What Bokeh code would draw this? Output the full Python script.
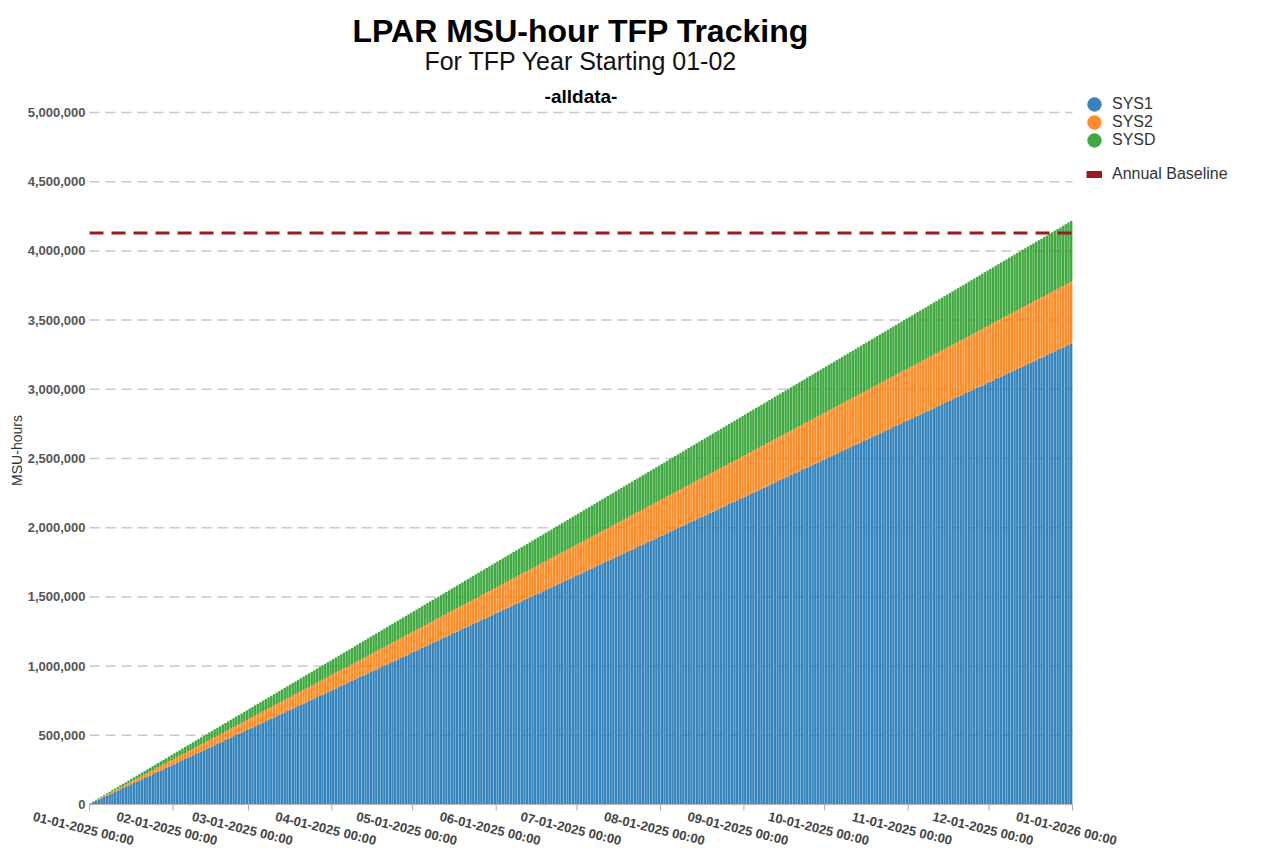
from datetime import datetime, timedelta
import numpy as np
from bokeh.plotting import figure
from bokeh.models import (ColumnDataSource, Range1d, FixedTicker, NumeralTickFormatter,
                          Legend, LegendItem)
from bokeh.core.properties import value
from bokeh.embed import file_html
from bokeh.resources import INLINE

# ---------------- data ----------------
series_names = ["SYS1", "SYS2", "SYSD"]
series_colors = ["#1f77b4", "#ff7f0e", "#2ca02c"]
baseline_label = "Annual Baseline"
annual_baseline = 4130000

# daily MSU-hours per LPAR (chart shows running total)
sys1_daily = [
    9210, 8940, 9350, 9080, 8870, 9460, 9020, 9190, 8990, 9090,
    9030, 9280, 8910, 9170, 9400, 8850, 9120, 9260, 8980, 9200,
    9340, 8960, 9110, 9050, 9270, 8890, 9180, 9010, 9420, 8970,
    8920, 9150, 9300, 9040, 9230, 8980, 9360, 8900, 9110, 9210,
    9090, 9190, 8990, 9460, 9020, 8870, 9350, 9080, 8940, 9210,
    9260, 8980, 9200, 8850, 9120, 9400, 9030, 9170, 9280, 8910,
    9010, 9420, 8970, 9180, 8890, 9270, 9340, 9050, 8960, 9110,
    9360, 8900, 9110, 9210, 8920, 9040, 9150, 9230, 9300, 8980,
    9020, 9460, 8870, 9090, 9350, 8990, 9210, 8940, 9190, 9080,
    9120, 8850, 9400, 9260, 8910, 9030, 9280, 9200, 8980, 9170,
    9180, 9050, 8960, 9340, 9010, 9110, 8890, 9420, 9270, 8970,
    9040, 9300, 9210, 8900, 9360, 8920, 9230, 9110, 8980, 9150,
    8990, 9210, 9080, 9350, 8940, 9460, 9190, 8870, 9020, 9090,
    9280, 8980, 9170, 9030, 9400, 9120, 8850, 9260, 9200, 8910,
    8970, 9270, 9420, 9010, 9180, 8960, 9340, 9050, 8890, 9110,
    9230, 8920, 9150, 9360, 8980, 9210, 9040, 8900, 9300, 9110,
    9460, 9020, 8940, 9190, 9090, 8870, 9210, 9350, 8990, 9080,
    8910, 9200, 9260, 8980, 9170, 9400, 9030, 9120, 8850, 9280,
    9110, 9340, 8890, 9270, 8970, 9050, 9420, 8960, 9180, 9010,
    9300, 9040, 9230, 8900, 9150, 9360, 8920, 9210, 8980, 9110,
    9080, 8990, 9350, 9210, 8940, 9020, 9460, 9090, 8870, 9190,
    9170, 9280, 8850, 9030, 9260, 8980, 9200, 9400, 8910, 9120,
    8960, 9180, 9340, 9110, 9010, 9270, 8890, 9050, 9420, 8970,
    9210, 8980, 9110, 9300, 8920, 9150, 9360, 9040, 8900, 9230,
    9350, 9080, 8870, 9190, 9460, 8940, 9020, 9210, 9090, 8990,
    9030, 9400, 9120, 8910, 9280, 9170, 8850, 9260, 8980, 9200,
    9270, 8970, 9050, 9420, 8890, 9110, 9340, 9010, 9180, 8960,
    8900, 9360, 9210, 9040, 9230, 8920, 9110, 9300, 8980, 9150,
    9190, 8990, 9460, 9020, 9090, 9350, 8870, 9080, 9210, 8940,
    9260, 9120, 8980, 9400, 8910, 9030, 9200, 8850, 9280, 9170,
    9050, 9340, 9180, 8890, 9270, 9010, 8960, 9420, 9110, 8970,
    9150, 8920, 9300, 9230, 8980, 9360, 9040, 9110, 8900, 9210,
    9090, 9210, 8940, 9350, 9020, 8990, 9190, 9460, 8870, 9080,
    9200, 9030, 9280, 8910, 9120, 9260, 9400, 8980, 9170, 8850,
    8970, 9420, 9010, 9180, 9340, 8890, 9110, 9050, 9270, 8960,
    9360, 9040, 8920, 9150, 9210, 9300, 8980, 9230, 9110, 8900,
    9120, 9190, 9050, 9260, 8980,
]
sys2_daily = [
    1250, 1190, 1280, 1220, 1170, 1310, 1230, 1200, 1260, 1190,
    1210, 1270, 1180, 1240, 1300, 1160, 1230, 1250, 1200, 1260,
    1190, 1260, 1200, 1230, 1310, 1170, 1220, 1280, 1190, 1250,
    1260, 1200, 1250, 1230, 1160, 1300, 1240, 1180, 1270, 1210,
    1230, 1310, 1170, 1250, 1190, 1280, 1200, 1220, 1260, 1190,
    1300, 1160, 1250, 1210, 1270, 1200, 1180, 1260, 1230, 1240,
    1220, 1280, 1190, 1260, 1200, 1250, 1310, 1170, 1190, 1230,
    1180, 1240, 1300, 1200, 1260, 1230, 1210, 1270, 1160, 1250,
    1270, 1200, 1240, 1190, 1250, 1220, 1300, 1170, 1230, 1230,
    1200, 1250, 1160, 1290, 1230, 1210, 1260, 1240, 1180, 1280,
    1220, 1170, 1310, 1230, 1200, 1260, 1190, 1250, 1190, 1280,
    1240, 1300, 1160, 1230, 1250, 1200, 1260, 1210, 1270, 1180,
    1230, 1310, 1170, 1220, 1280, 1190, 1250, 1190, 1260, 1200,
    1230, 1160, 1300, 1240, 1180, 1270, 1210, 1260, 1200, 1250,
    1250, 1190, 1280, 1200, 1220, 1260, 1190, 1230, 1310, 1170,
    1210, 1270, 1200, 1180, 1260, 1230, 1240, 1300, 1160, 1250,
    1260, 1200, 1250, 1310, 1170, 1190, 1230, 1220, 1280, 1190,
    1200, 1260, 1230, 1210, 1270, 1160, 1250, 1180, 1240, 1300,
    1190, 1250, 1220, 1300, 1170, 1230, 1230, 1270, 1200, 1240,
    1290, 1230, 1210, 1260, 1240, 1180, 1280, 1200, 1250, 1160,
    1230, 1200, 1260, 1190, 1250, 1190, 1280, 1220, 1170, 1310,
    1230, 1250, 1200, 1260, 1210, 1270, 1180, 1240, 1300, 1160,
    1220, 1280, 1190, 1250, 1190, 1260, 1200, 1230, 1310, 1170,
    1240, 1180, 1270, 1210, 1260, 1200, 1250, 1230, 1160, 1300,
    1200, 1220, 1260, 1190, 1230, 1310, 1170, 1250, 1190, 1280,
    1180, 1260, 1230, 1240, 1300, 1160, 1250, 1210, 1270, 1200,
    1310, 1170, 1190, 1230, 1220, 1280, 1190, 1260, 1200, 1250,
    1210, 1270, 1160, 1250, 1180, 1240, 1300, 1200, 1260, 1230,
    1300, 1170, 1230, 1230, 1270, 1200, 1240, 1190, 1250, 1220,
    1260, 1240, 1180, 1280, 1200, 1250, 1160, 1290, 1230, 1210,
    1260, 1190, 1250, 1190, 1280, 1220, 1170, 1310, 1230, 1200,
    1200, 1260, 1210, 1270, 1180, 1240, 1300, 1160, 1230, 1250,
    1190, 1250, 1190, 1260, 1200, 1230, 1310, 1170, 1220, 1280,
    1270, 1210, 1260, 1200, 1250, 1230, 1160, 1300, 1240, 1180,
    1260, 1190, 1230, 1310, 1170, 1250, 1190, 1280, 1200, 1220,
    1230, 1240, 1300, 1160, 1250, 1210, 1270, 1200, 1180, 1260,
    1220, 1280, 1190, 1260, 1200,
]
sysd_daily = [
    1180, 1240, 1150, 1220, 1270, 1130, 1210, 1190, 1250, 1160,
    1230, 1170, 1260, 1140, 1200, 1280, 1190, 1220, 1150, 1160,
    1210, 1150, 1240, 1190, 1160, 1250, 1130, 1270, 1180, 1220,
    1160, 1220, 1190, 1280, 1140, 1200, 1230, 1150, 1260, 1170,
    1250, 1130, 1200, 1170, 1230, 1190, 1160, 1240, 1210, 1220,
    1190, 1270, 1140, 1210, 1180, 1230, 1260, 1120, 1200, 1200,
    1140, 1200, 1250, 1160, 1220, 1180, 1240, 1210, 1130, 1270,
    1220, 1190, 1170, 1260, 1150, 1240, 1200, 1180, 1230, 1160,
    1200, 1160, 1230, 1180, 1260, 1150, 1220, 1240, 1170, 1190,
    1170, 1250, 1210, 1140, 1190, 1270, 1160, 1230, 1200, 1180,
    1270, 1130, 1210, 1190, 1250, 1160, 1180, 1240, 1150, 1220,
    1200, 1280, 1190, 1220, 1150, 1160, 1230, 1170, 1260, 1140,
    1160, 1250, 1130, 1270, 1180, 1220, 1210, 1150, 1240, 1190,
    1140, 1200, 1230, 1150, 1260, 1170, 1160, 1220, 1190, 1280,
    1230, 1190, 1160, 1240, 1210, 1220, 1250, 1130, 1200, 1170,
    1180, 1230, 1260, 1120, 1200, 1200, 1190, 1270, 1140, 1210,
    1220, 1180, 1240, 1210, 1130, 1270, 1140, 1200, 1250, 1160,
    1150, 1240, 1200, 1180, 1230, 1160, 1220, 1190, 1170, 1260,
    1260, 1150, 1220, 1240, 1170, 1190, 1200, 1160, 1230, 1180,
    1190, 1270, 1160, 1230, 1200, 1180, 1170, 1250, 1210, 1140,
    1190, 1250, 1160, 1180, 1240, 1150, 1220, 1270, 1130, 1210,
    1220, 1150, 1160, 1230, 1170, 1260, 1140, 1200, 1280, 1190,
    1270, 1180, 1220, 1210, 1150, 1240, 1190, 1160, 1250, 1130,
    1150, 1260, 1170, 1160, 1220, 1190, 1280, 1140, 1200, 1230,
    1240, 1210, 1220, 1250, 1130, 1200, 1170, 1230, 1190, 1160,
    1120, 1200, 1200, 1190, 1270, 1140, 1210, 1180, 1230, 1260,
    1210, 1130, 1270, 1140, 1200, 1250, 1160, 1220, 1180, 1240,
    1180, 1230, 1160, 1220, 1190, 1170, 1260, 1150, 1240, 1200,
    1240, 1170, 1190, 1200, 1160, 1230, 1180, 1260, 1150, 1220,
    1230, 1200, 1180, 1170, 1250, 1210, 1140, 1190, 1270, 1160,
    1150, 1220, 1270, 1130, 1210, 1190, 1250, 1160, 1180, 1240,
    1260, 1140, 1200, 1280, 1190, 1220, 1150, 1160, 1230, 1170,
    1240, 1190, 1160, 1250, 1130, 1270, 1180, 1220, 1210, 1150,
    1190, 1280, 1140, 1200, 1230, 1150, 1260, 1170, 1160, 1220,
    1200, 1170, 1230, 1190, 1160, 1240, 1210, 1220, 1250, 1130,
    1140, 1210, 1180, 1230, 1260, 1120, 1200, 1200, 1190, 1270,
    1250, 1160, 1220, 1180, 1240,
]

y_ticks = [0, 500000, 1000000, 1500000, 2000000, 2500000, 3000000,
           3500000, 4000000, 4500000, 5000000]
x_tick_dates = ["2025-01-01", "2025-02-01", "2025-03-01", "2025-04-01", "2025-05-01",
                "2025-06-01", "2025-07-01", "2025-08-01", "2025-09-01", "2025-10-01",
                "2025-11-01", "2025-12-01", "2026-01-01"]
x_tick_labels = ["01-01-2025 00:00", "02-01-2025 00:00", "03-01-2025 00:00", "04-01-2025 00:00",
                 "05-01-2025 00:00", "06-01-2025 00:00", "07-01-2025 00:00", "08-01-2025 00:00",
                 "09-01-2025 00:00", "10-01-2025 00:00", "11-01-2025 00:00", "12-01-2025 00:00",
                 "01-01-2026 00:00"]
title_text = "LPAR MSU-hour TFP Tracking"
subtitle_text = "For TFP Year Starting 01-02"
filter_text = "-alldata-"
y_axis_title = "MSU-hours"

# ---------------- layout (screen pixels, style only) ----------------
FONT = "Liberation Sans"
FIG_W, FIG_H = 1264, 852
FRAME_L, FRAME_T = 0, 48           # frame fills the canvas below the title
YEAR_START_PX, YEAR_END_PX = 89, 1072
ZERO_PX, TOPTICK_PX = 804, 112
LEG_SERIES_Y = [104, 122, 139.5]   # legend row centres
LEG_BASE_Y = 174

epoch = datetime(1970, 1, 1)
tick_dts = [datetime.strptime(d, "%Y-%m-%d") for d in x_tick_dates]
tick_ms = [(d - epoch).total_seconds() * 1000.0 for d in tick_dts]
t0_ms, t1_ms = tick_ms[0], tick_ms[-1]
ms_per_px = (t1_ms - t0_ms) / (YEAR_END_PX - YEAR_START_PX)
u_per_px = y_ticks[-1] / (ZERO_PX - TOPTICK_PX)

def x_at(px):
    return t0_ms + (px - YEAR_START_PX) * ms_per_px

def y_at(py):
    return (ZERO_PX - py) * u_per_px

DAY_MS = 86400000.0
n = len(sys1_daily)
days = [tick_dts[0] + timedelta(days=i, hours=12) for i in range(n)]
src = ColumnDataSource(dict(
    day=days,
    SYS1=np.cumsum(sys1_daily),
    SYS2=np.cumsum(sys2_daily),
    SYSD=np.cumsum(sysd_daily),
))

p = figure(width=FIG_W, height=FIG_H, output_backend="svg", toolbar_location=None,
           x_axis_location=None,
           x_range=Range1d(x_at(FRAME_L), x_at(FIG_W)),
           y_range=Range1d(y_at(FIG_H), y_at(FRAME_T)),
           min_border_left=0, min_border_right=0, min_border_top=FRAME_T,
           min_border_bottom=0,
           outline_line_color=None, background_fill_color="white", border_fill_color="white")
p.xgrid.visible = False
p.ygrid.visible = False

# title (real plot title, placed over the year span)
p.title.text = title_text
p.title.align = "left"
p.title.offset = 352
p.title.standoff = 0
p.title.text_font = FONT
p.title.text_font_size = "32px"
p.title.text_font_style = "bold"
p.title.text_color = "#000000"

# gridlines over the year span
p.segment(x0=[t0_ms] * len(y_ticks), x1=[t1_ms] * len(y_ticks), y0=y_ticks, y1=y_ticks,
          line_color="#c8c8c8", line_width=1.5, line_dash="10 6")

# stacked cumulative bars
p.vbar_stack(series_names, x="day", width=0.9 * DAY_MS, source=src,
             fill_color=series_colors, fill_alpha=0.9, line_color=None)

# x axis line + ticks
p.segment(x0=[t0_ms], x1=[t1_ms], y0=[0], y1=[0], line_color="#bbbbbb", line_width=1)
p.segment(x0=tick_ms, x1=tick_ms, y0=[0] * len(tick_ms), y1=[y_at(ZERO_PX + 6)] * len(tick_ms),
          line_color="#aaaaaa", line_width=1)

# annual baseline
p.line(x=[t0_ms, t1_ms], y=[annual_baseline, annual_baseline], line_color="#9b1a1e",
       line_width=3, line_dash="14 8")

# x tick labels
p.text(x=tick_ms, y=[y_at(ZERO_PX + 24)] * len(tick_ms), text=x_tick_labels,
       angle=-0.24, x_offset=-6, text_align="center", text_baseline="middle",
       text_font=value(FONT), text_font_size=value("13px"), text_font_style="bold",
       text_color="#444444")

# subtitle lines centred over the year span
mid_ms = (t0_ms + t1_ms) / 2
p.text(x=[mid_ms], y=[y_at(60)], text=[subtitle_text], text_align="center",
       text_baseline="middle", text_font=value(FONT), text_font_size=value("25px"),
       text_font_style="normal", text_color="#111111")
p.text(x=[mid_ms], y=[y_at(96)], text=[filter_text], text_align="center",
       text_baseline="middle", text_font=value(FONT), text_font_size=value("19px"),
       text_font_style="bold", text_color="#000000")

# legend proxies (one undefined point each, nothing drawn in the plot)
leg_rs = [p.scatter(x=[np.nan], y=[np.nan], marker="circle", size=16, fill_color=c,
                    fill_alpha=0.9, line_color=None) for c in series_colors]
base_r = p.line(x=[np.nan, np.nan], y=[np.nan, np.nan], line_color="#9b1a1e", line_width=7)

def mk_legend(label, renderer, left_px, center_py, gw, gh, standoff):
    return Legend(items=[LegendItem(label=label, renderers=[renderer], index=0)],
                  location=(left_px - FRAME_L, FIG_H - center_py - gh / 2),
                  orientation="vertical",
                  glyph_width=gw, glyph_height=gh, label_height=18, spacing=0,
                  padding=0, margin=0, label_standoff=standoff,
                  label_text_font=FONT, label_text_font_size="16px",
                  label_text_color="#333333",
                  background_fill_alpha=0, border_line_alpha=0)

# marker legend glyphs are drawn at 0.4 x the glyph box, so use a 36px box (circle ~14px)
for nm, r, cy in zip(series_names, leg_rs, LEG_SERIES_Y):
    p.add_layout(mk_legend(nm, r, 1076, cy, 36, 36, 0))
p.add_layout(mk_legend(baseline_label, base_r, 1086, LEG_BASE_Y, 16, 18, 10))

# y axis, pinned at the start of the year
ya = p.yaxis[0]
ya.fixed_location = t0_ms
ya.ticker = FixedTicker(ticks=y_ticks)
ya.formatter = NumeralTickFormatter(format="0,0")
ya.major_label_text_font = FONT
ya.major_label_text_font_size = "13px"
ya.major_label_text_font_style = "bold"
ya.major_label_text_color = "#555555"
ya.major_label_standoff = 4
ya.axis_line_color = None
ya.major_tick_line_color = None
ya.major_tick_out = 0
ya.major_tick_in = 0
ya.minor_tick_line_color = None
ya.axis_label = y_axis_title
ya.axis_label_text_font = FONT
ya.axis_label_text_font_size = "14px"
ya.axis_label_text_font_style = "normal"
ya.axis_label_text_color = "#333333"
ya.axis_label_standoff = 0

open("out.html", "w").write(file_html(p, INLINE, title=title_text))
